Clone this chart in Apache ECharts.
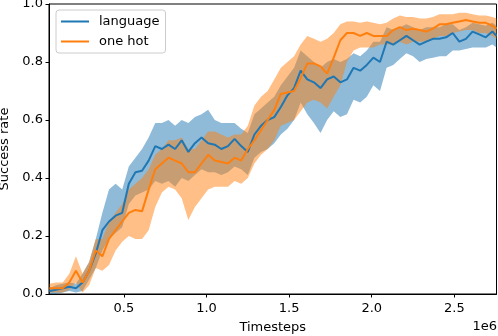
<!DOCTYPE html>
<html lang="en">
<head>
    <meta charset="UTF-8">
    <title>Success rate</title>
    <script src="https://cdn.jsdelivr.net/npm/echarts@6/dist/echarts.min.js"></script>
    <style>
        body { margin: 0; background: #fff; }
        #chart { width: 498px; height: 336px; }
    </style>
</head>
<body>
    <div id="chart"></div>
<script>
    // timesteps in units of 1e6
    var steps = [0.05, 0.09, 0.13, 0.17, 0.21, 0.25, 0.29, 0.33, 0.37, 0.41, 0.45, 0.49, 0.53, 0.57, 0.61, 0.65, 0.69, 0.73, 0.77, 0.81,
        0.85, 0.89, 0.93, 0.97, 1.01, 1.05, 1.09, 1.13, 1.17, 1.21, 1.25, 1.29, 1.33, 1.37, 1.41, 1.45, 1.49, 1.53, 1.57, 1.61,
        1.65, 1.69, 1.73, 1.77, 1.81, 1.85, 1.89, 1.93, 1.97, 2.01, 2.05, 2.09, 2.13, 2.17, 2.21, 2.25, 2.29, 2.33, 2.37, 2.41,
        2.45, 2.49, 2.53, 2.57, 2.61, 2.65, 2.69, 2.73, 2.755];

    var langMean = [0.01, 0.015, 0.02, 0.025, 0.02, 0.04, 0.08, 0.14, 0.22, 0.25, 0.27, 0.28, 0.38, 0.42, 0.425, 0.46, 0.51, 0.50, 0.515, 0.50,
        0.53, 0.49, 0.52, 0.54, 0.52, 0.515, 0.50, 0.51, 0.535, 0.51, 0.49, 0.55, 0.58, 0.60, 0.61, 0.645, 0.685, 0.71, 0.77, 0.74,
        0.73, 0.71, 0.74, 0.75, 0.73, 0.74, 0.78, 0.77, 0.79, 0.815, 0.80, 0.87, 0.86, 0.875, 0.89, 0.875, 0.86, 0.87, 0.88, 0.88,
        0.885, 0.90, 0.87, 0.88, 0.905, 0.895, 0.885, 0.905, 0.89];
    var langLow = [0.0, 0.0, 0.005, 0.01, 0.005, 0.01, 0.05, 0.09, 0.15, 0.19, 0.21, 0.23, 0.31, 0.34, 0.35, 0.36, 0.39, 0.38, 0.39, 0.37,
        0.40, 0.39, 0.41, 0.43, 0.42, 0.42, 0.41, 0.42, 0.44, 0.43, 0.41, 0.47, 0.49, 0.50, 0.52, 0.55, 0.57, 0.60, 0.66, 0.62,
        0.59, 0.555, 0.60, 0.63, 0.61, 0.62, 0.67, 0.66, 0.68, 0.72, 0.70, 0.78, 0.79, 0.81, 0.83, 0.82, 0.80, 0.81, 0.815, 0.82,
        0.82, 0.84, 0.84, 0.845, 0.85, 0.85, 0.85, 0.86, 0.85];
    var langHigh = [0.02, 0.03, 0.035, 0.04, 0.035, 0.07, 0.11, 0.19, 0.28, 0.36, 0.38, 0.36, 0.44, 0.47, 0.50, 0.54, 0.59, 0.59, 0.60, 0.58,
        0.60, 0.59, 0.61, 0.62, 0.635, 0.60, 0.59, 0.59, 0.59, 0.57, 0.555, 0.62, 0.64, 0.66, 0.68, 0.72, 0.75, 0.78, 0.84, 0.82,
        0.80, 0.78, 0.80, 0.81, 0.80, 0.81, 0.83, 0.82, 0.84, 0.87, 0.87, 0.92, 0.91, 0.92, 0.93, 0.92, 0.91, 0.92, 0.92, 0.92,
        0.93, 0.93, 0.91, 0.92, 0.935, 0.93, 0.925, 0.935, 0.925];

    var hotMean = [0.02, 0.02, 0.02, 0.04, 0.08, 0.04, 0.08, 0.15, 0.13, 0.19, 0.22, 0.25, 0.28, 0.29, 0.285, 0.36, 0.43, 0.45, 0.47, 0.46,
        0.45, 0.42, 0.42, 0.45, 0.48, 0.46, 0.455, 0.45, 0.47, 0.46, 0.50, 0.53, 0.565, 0.60, 0.635, 0.69, 0.695, 0.70, 0.745, 0.795,
        0.795, 0.785, 0.76, 0.815, 0.875, 0.90, 0.90, 0.89, 0.90, 0.89, 0.89, 0.89, 0.91, 0.92, 0.91, 0.915, 0.91, 0.905, 0.915, 0.93,
        0.93, 0.935, 0.94, 0.945, 0.94, 0.935, 0.935, 0.925, 0.915];
    var hotLow = [0.005, 0.005, 0.005, 0.015, 0.04, 0.005, 0.03, 0.09, 0.08, 0.10, 0.15, 0.18, 0.20, 0.19, 0.19, 0.22, 0.30, 0.35, 0.37, 0.36,
        0.33, 0.255, 0.30, 0.33, 0.36, 0.37, 0.37, 0.37, 0.39, 0.38, 0.40, 0.45, 0.48, 0.50, 0.53, 0.58, 0.59, 0.60, 0.63, 0.66,
        0.67, 0.66, 0.64, 0.68, 0.72, 0.80, 0.84, 0.85, 0.85, 0.85, 0.86, 0.86, 0.86, 0.87, 0.86, 0.87, 0.87, 0.87, 0.88, 0.89,
        0.89, 0.90, 0.905, 0.91, 0.91, 0.90, 0.90, 0.89, 0.88];
    var hotHigh = [0.035, 0.04, 0.04, 0.07, 0.13, 0.07, 0.11, 0.19, 0.19, 0.25, 0.28, 0.31, 0.36, 0.38, 0.40, 0.43, 0.48, 0.50, 0.53, 0.53,
        0.54, 0.50, 0.50, 0.53, 0.56, 0.56, 0.55, 0.54, 0.55, 0.55, 0.58, 0.65, 0.68, 0.70, 0.74, 0.78, 0.80, 0.82, 0.86, 0.89,
        0.88, 0.87, 0.88, 0.90, 0.93, 0.94, 0.94, 0.935, 0.94, 0.935, 0.93, 0.935, 0.95, 0.96, 0.955, 0.955, 0.95, 0.95, 0.955, 0.965,
        0.965, 0.965, 0.97, 0.97, 0.965, 0.96, 0.96, 0.955, 0.95];

    var xTicks = [0.5, 1.0, 1.5, 2.0, 2.5];

    var blue = '#1f77b4';
    var orange = '#ff7f0e';
    var font = 'DejaVu Sans';

    function pairs(ys) {
        return steps.map(function (x, i) { return [x, ys[i]]; });
    }

    // shaded band drawn as one polygon through the axis scales
    function band(name, lo, hi, color) {
        var rows = steps.map(function (x, i) { return [x, lo[i], hi[i]]; });
        return {
            name: name, type: 'custom', data: rows, silent: true, z: 1,
            encode: { x: 0, y: [1, 2] },
            renderItem: function (params, api) {
                if (params.dataIndex !== 0) return;
                var top = [], bottom = [];
                rows.forEach(function (r) {
                    top.push(api.coord([r[0], r[2]]));
                    bottom.push(api.coord([r[0], r[1]]));
                });
                return {
                    type: 'polygon',
                    shape: { points: top.concat(bottom.reverse()) },
                    style: { fill: color, opacity: 0.5 }
                };
            }
        };
    }

    var chart = echarts.init(document.getElementById('chart'));

    var option = {
        animation: false,
        textStyle: { fontFamily: font },
        grid: {
            left: 49, right: 1.5, top: 4, bottom: 42,
            outerBoundsMode: 'none', containLabel: false,
            show: true, borderColor: '#000', borderWidth: 1, backgroundColor: 'transparent'
        },
        legend: {
            data: ['language', 'one hot'],
            orient: 'vertical',
            left: 56, top: 10,
            padding: [5, 6, 5, 5],
            itemGap: 7,
            itemWidth: 28, itemHeight: 2,
            icon: 'rect',
            backgroundColor: 'rgba(255,255,255,0.8)',
            borderColor: '#cccccc', borderWidth: 1, borderRadius: 3,
            textStyle: { fontFamily: font, fontSize: 13, color: '#000', padding: [0, 0, 0, 5] }
        },
        xAxis: {
            type: 'value',
            min: 0.047, max: 2.755,
            name: 'Timesteps', nameLocation: 'middle', nameGap: 27,
            nameTextStyle: { fontFamily: font, fontSize: 13, color: '#000' },
            axisLine: { lineStyle: { color: '#000', width: 1 } },
            axisTick: { customValues: xTicks, length: 3.5, lineStyle: { color: '#000' } },
            axisLabel: {
                customValues: xTicks, margin: 8, fontSize: 13, color: '#000', fontFamily: font,
                formatter: function (v) { return v.toFixed(1); }
            },
            splitLine: { show: false }
        },
        yAxis: {
            type: 'value',
            min: 0, max: 1, interval: 0.2,
            name: 'Success rate', nameLocation: 'middle', nameGap: 35,
            nameTextStyle: { fontFamily: font, fontSize: 13, color: '#000' },
            axisLine: { show: true, lineStyle: { color: '#000', width: 1 } },
            axisTick: { show: true, length: 3.5, lineStyle: { color: '#000' } },
            axisLabel: {
                margin: 6, fontSize: 13, color: '#000', fontFamily: font,
                formatter: function (v) { return v.toFixed(1); }
            },
            splitLine: { show: false }
        },
        graphic: [{
            type: 'text', right: 1, top: 320,
            style: { text: '1e6', font: '13px "DejaVu Sans"', fill: '#000' }
        }],
        series: [
            band('lang-band', langLow, langHigh, blue),
            band('hot-band', hotLow, hotHigh, orange),
            {
                name: 'language', type: 'line', data: pairs(langMean), symbol: 'none',
                color: blue, lineStyle: { color: blue, width: 2 }, z: 3
            },
            {
                name: 'one hot', type: 'line', data: pairs(hotMean), symbol: 'none',
                color: orange, lineStyle: { color: orange, width: 2 }, z: 4
            }
        ]
    };

    chart.setOption(option);
</script>
</body>
</html>
